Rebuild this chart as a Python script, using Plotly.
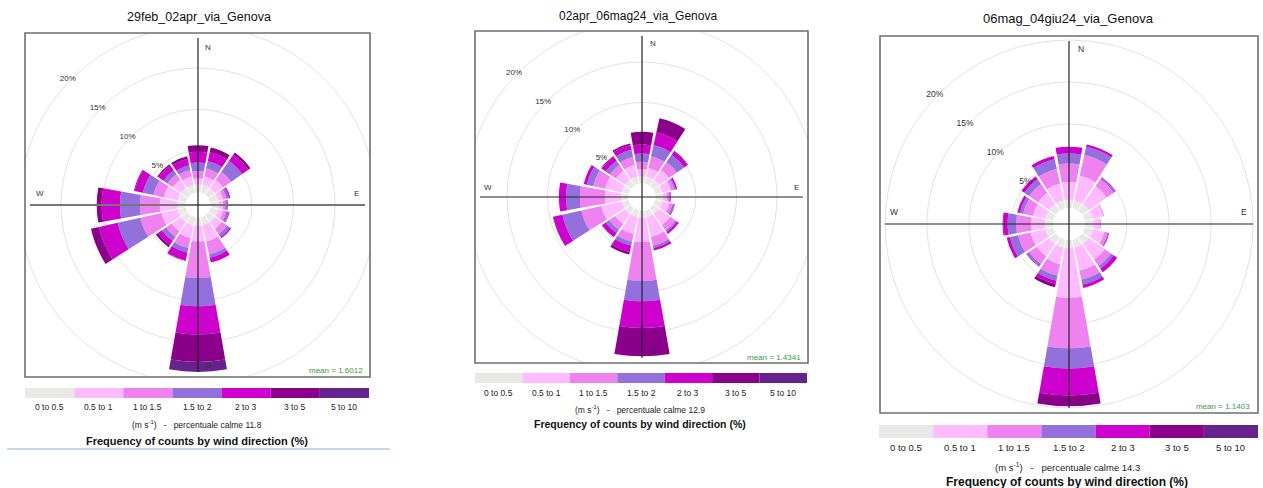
import plotly.graph_objects as go

FIG_W, FIG_H = 1263, 488
FONT = "Liberation Sans, Arial, sans-serif"

# Wind directions (degrees clockwise from north)
directions = [0, 22.5, 45, 67.5, 90, 112.5, 135, 157.5,
              180, 202.5, 225, 247.5, 270, 292.5, 315, 337.5]

speed_bins = ["0 to 0.5", "0.5 to 1", "1 to 1.5", "1.5 to 2", "2 to 3", "3 to 5", "5 to 10"]
bin_colors = ["#EAE7E7", "#FFBBFF", "#EE82EE", "#9370DB", "#CD00CD", "#8B008B", "#68228B"]

ring_values = [5, 10, 15, 20]

# Frequency (%) per speed bin (rows) and direction (columns)
freq_29feb_02apr = [
    [1.0] * 16,
    [0.7, 1.0, 1.2, 0.6, 0.5, 0.6, 1.0, 2.0, 1.9, 1.6, 1.4, 2.0, 2.1, 1.7, 1.2, 1.0],
    [0.9, 1.0, 1.2, 0.4, 0.3, 0.4, 0.8, 1.6, 4.4, 1.2, 0.8, 2.6, 2.4, 1.3, 0.8, 0.8],
    [1.0, 0.9, 1.6, 0.3, 0.2, 0.3, 0.4, 0.4, 3.4, 0.6, 0.6, 2.8, 2.4, 1.3, 0.6, 0.6],
    [1.3, 1.1, 0.9, 0.2, 0.1, 0.1, 0.2, 0.6, 3.4, 0.9, 0.6, 2.3, 2.2, 1.0, 0.7, 0.8],
    [0.8, 0.6, 0.3, 0.0, 0.0, 0.0, 0.0, 0.0, 3.3, 0.1, 0.3, 1.0, 0.6, 0.1, 0.2, 0.3],
    [0.0, 0.0, 0.0, 0.0, 0.0, 0.0, 0.0, 0.0, 1.2, 0.0, 0.0, 0.0, 0.0, 0.0, 0.0, 0.0],
]
freq_02apr_06mag = [
    [0.9] * 16,
    [0.9, 1.1, 1.5, 1.1, 0.5, 0.9, 1.7, 2.5, 3.0, 2.1, 1.5, 2.6, 2.0, 2.1, 1.4, 1.5],
    [0.9, 1.5, 1.2, 0.4, 0.3, 0.4, 0.8, 1.1, 4.8, 1.0, 0.9, 2.5, 3.1, 1.5, 0.9, 1.0],
    [1.0, 1.4, 1.1, 0.2, 0.1, 0.2, 0.2, 0.3, 2.5, 0.5, 0.5, 2.4, 1.7, 0.8, 0.6, 0.9],
    [1.1, 1.6, 0.5, 0.2, 0.1, 0.1, 0.3, 0.3, 3.3, 0.8, 0.6, 1.2, 0.9, 0.4, 0.6, 0.6],
    [1.6, 1.8, 0.1, 0.0, 0.0, 0.0, 0.0, 0.0, 3.5, 0.3, 0.0, 0.0, 0.0, 0.0, 0.1, 0.2],
    [0.0] * 16,
]
freq_06mag_04giu = [
    [1.0] * 16,
    [2.1, 3.0, 2.6, 1.3, 0.8, 1.4, 2.3, 2.8, 5.9, 2.0, 1.8, 1.8, 1.6, 1.5, 1.6, 2.0],
    [2.2, 2.5, 1.0, 0.1, 0.1, 0.4, 0.9, 1.1, 6.0, 1.4, 1.1, 1.5, 1.8, 1.2, 1.3, 1.8],
    [1.2, 1.0, 0.2, 0.0, 0.0, 0.1, 0.4, 0.6, 2.4, 0.6, 0.3, 1.0, 1.0, 0.4, 0.7, 1.2],
    [0.8, 0.3, 0.1, 0.0, 0.0, 0.1, 0.5, 0.4, 3.2, 0.4, 0.1, 0.4, 0.5, 0.3, 0.4, 0.4],
    [0.0, 0.0, 0.0, 0.0, 0.0, 0.0, 0.0, 0.0, 1.3, 0.4, 0.0, 0.0, 0.1, 0.0, 0.0, 0.0],
    [0.0] * 16,
]

titles = ["29feb_02apr_via_Genova", "02apr_06mag24_via_Genova", "06mag_04giu24_via_Genova"]
mean_speeds = ["1.6012", "1.4341", "1.1403"]
calm_pcts = ["11.8", "12.9", "14.3"]
frequencies = [freq_29feb_02apr, freq_02apr_06mag, freq_06mag_04giu]

# Page layout of each rose (pixels)
layouts = [
    dict(cx=198, cy=205, hole=12.5, scale=8.3, R=190, box=(25, 33, 370, 377),
         title_xy=(199, 17), title_size=12.5, cross_h=("#777777", 2.2), cross_v=("#222222", 1.2),
         cross_pad=5, nsew=(158, 160, 10, 11), lab_size=8,
         mean_xy=(365, 370), bar=(25, 369, 388, 398), lab_y=407, unit_xy=(197, 424), foot_y=441,
         leg_size=8.5, foot_size=11),
    dict(cx=642, cy=197, hole=13.5, scale=8.1, R=190, box=(475, 31, 808, 363),
         title_xy=(638, 16), title_size=12, cross_h=("#222222", 1.2), cross_v=("#222222", 1.2),
         cross_pad=5, nsew=(154, 154, 11, 10), lab_size=8,
         mean_xy=(803, 357), bar=(475, 807, 373, 383), lab_y=393, unit_xy=(640, 409), foot_y=424,
         leg_size=8.5, foot_size=10.5),
    dict(cx=1069, cy=224, hole=16, scale=8.4, R=192, box=(880, 36, 1258, 413),
         title_xy=(1068, 19), title_size=13, cross_h=("#222222", 1.2), cross_v=("#222222", 1.2),
         cross_pad=5, nsew=(175, 176, 12, 12), lab_size=8.5,
         mean_xy=(1252, 406), bar=(879, 1258, 425, 438), lab_y=447, unit_xy=(1067, 467), foot_y=482,
         leg_size=9.5, foot_size=12),
]


def fx(x):
    return x / FIG_W


def fy(y):
    return 1 - y / FIG_H


fig = go.Figure()
shapes_mask, shapes_top, annotations = [], [], []

for k, (lay, freq) in enumerate(zip(layouts, frequencies), start=1):
    sub = "polar" if k == 1 else f"polar{k}"
    cx, cy, R = lay["cx"], lay["cy"], lay["R"]
    rmax = (R - lay["hole"]) / lay["scale"]

    for b in range(len(speed_bins)):
        fig.add_trace(go.Barpolar(
            r=freq[b], theta=directions, width=[20] * len(directions),
            marker=dict(color=bin_colors[b], line=dict(width=0)),
            name=speed_bins[b], subplot=sub, showlegend=False, hoverinfo="skip"))

    fig.add_trace(go.Scatterpolar(
        r=[v + 0.3 for v in ring_values], theta=[314] * len(ring_values),
        mode="text", text=[f"{v}%" for v in ring_values],
        textfont=dict(family=FONT, size=lay["lab_size"], color="#333333"),
        subplot=sub, showlegend=False, hoverinfo="skip"))

    fig.update_layout(**{sub: dict(
        domain=dict(x=[fx(cx - R), fx(cx + R)], y=[fy(cy + R), fy(cy - R)]),
        hole=lay["hole"] / R,
        bgcolor="white",
        barmode="stack",
        radialaxis=dict(range=[0, rmax], tickvals=[5, 10, 15, 20, 25], showticklabels=False,
                        ticks="", showline=False, gridcolor="#e2e2e2", gridwidth=1),
        angularaxis=dict(rotation=90, direction="clockwise", showgrid=False,
                         showticklabels=False, ticks="", showline=False),
    )})

    # white frame outside the panel box
    x0, y0, x1, y1 = lay["box"]
    L, Rr, T, B = cx - R - 3, cx + R + 3, cy - R - 3, cy + R + 3
    for (a, b_, c, d) in [(L, T, Rr, y0), (L, y1, Rr, B), (L, T, x0, B), (x1, T, Rr, B)]:
        shapes_mask.append(dict(type="rect", xref="paper", yref="paper", layer="above",
                                x0=fx(a), x1=fx(c), y0=fy(b_), y1=fy(d),
                                fillcolor="white", line=dict(width=0)))

    # axis cross
    pad = lay["cross_pad"]
    shapes_top.append(dict(type="line", xref="paper", yref="paper", layer="above",
                           x0=fx(x0 + pad), x1=fx(x1 - pad), y0=fy(cy), y1=fy(cy),
                           line=dict(color=lay["cross_h"][0], width=lay["cross_h"][1])))
    shapes_top.append(dict(type="line", xref="paper", yref="paper", layer="above",
                           x0=fx(cx), x1=fx(cx), y0=fy(y0 + pad), y1=fy(y1 - pad),
                           line=dict(color=lay["cross_v"][0], width=lay["cross_v"][1])))
    # panel border
    shapes_top.append(dict(type="rect", xref="paper", yref="paper", layer="above",
                           x0=fx(x0), x1=fx(x1), y0=fy(y1), y1=fy(y0),
                           line=dict(color="#6f6f6f", width=1.6)))

    # colour key
    bx0, bx1, by0, by1 = lay["bar"]
    seg = (bx1 - bx0) / len(speed_bins)
    for b, (lbl, col) in enumerate(zip(speed_bins, bin_colors)):
        shapes_top.append(dict(type="rect", xref="paper", yref="paper", layer="above",
                               x0=fx(bx0 + b * seg), x1=fx(bx0 + (b + 1) * seg),
                               y0=fy(by1), y1=fy(by0), fillcolor=col, line=dict(width=0)))
        annotations.append(dict(x=fx(bx0 + (b + 0.5) * seg), y=fy(lay["lab_y"]), text=lbl,
                                showarrow=False, xanchor="center", yanchor="middle",
                                font=dict(family=FONT, size=lay["leg_size"], color="#222222")))

    annotations.append(dict(
        x=fx(lay["unit_xy"][0]), y=fy(lay["unit_xy"][1]),
        text=f"(m s<sup>-1</sup>)   -   percentuale calme {calm_pcts[k - 1]}",
        showarrow=False, xanchor="center", yanchor="middle",
        font=dict(family=FONT, size=lay["leg_size"], color="#222222")))
    annotations.append(dict(
        x=fx(lay["unit_xy"][0]), y=fy(lay["foot_y"]),
        text="<b>Frequency of counts by wind direction (%)</b>",
        showarrow=False, xanchor="center", yanchor="middle",
        font=dict(family=FONT, size=lay["foot_size"], color="#111111")))

    # title
    annotations.append(dict(x=fx(lay["title_xy"][0]), y=fy(lay["title_xy"][1]), text=titles[k - 1],
                            showarrow=False, xanchor="center", yanchor="middle",
                            font=dict(family=FONT, size=lay["title_size"], color="#111111")))

    # compass letters
    dv, ds, dxn, dyh = lay["nsew"]
    for txt, px, py in [("N", cx + dxn, cy - dv), ("S", cx + dxn, cy + ds),
                        ("W", cx - dv, cy - dyh), ("E", cx + dv, cy - dyh)]:
        annotations.append(dict(x=fx(px), y=fy(py), text=txt, showarrow=False,
                                xanchor="center", yanchor="middle",
                                font=dict(family=FONT, size=lay["lab_size"], color="#333333")))

    # mean wind speed
    annotations.append(dict(x=fx(lay["mean_xy"][0]), y=fy(lay["mean_xy"][1]),
                            text=f"mean = {mean_speeds[k - 1]}", showarrow=False,
                            xanchor="right", yanchor="middle",
                            font=dict(family=FONT, size=8, color="#3a9a3a")))

# thin rule under the first panel
shapes_top.append(dict(type="line", xref="paper", yref="paper", layer="above",
                       x0=fx(7), x1=fx(390), y0=fy(449), y1=fy(449),
                       line=dict(color="#c8d8ec", width=2)))

fig.update_layout(
    width=FIG_W, height=FIG_H, autosize=False,
    margin=dict(l=0, r=0, t=0, b=0),
    paper_bgcolor="white", plot_bgcolor="white",
    shapes=shapes_mask + shapes_top,
    annotations=annotations,
    showlegend=False,
)

fig.write_html("out.html")
